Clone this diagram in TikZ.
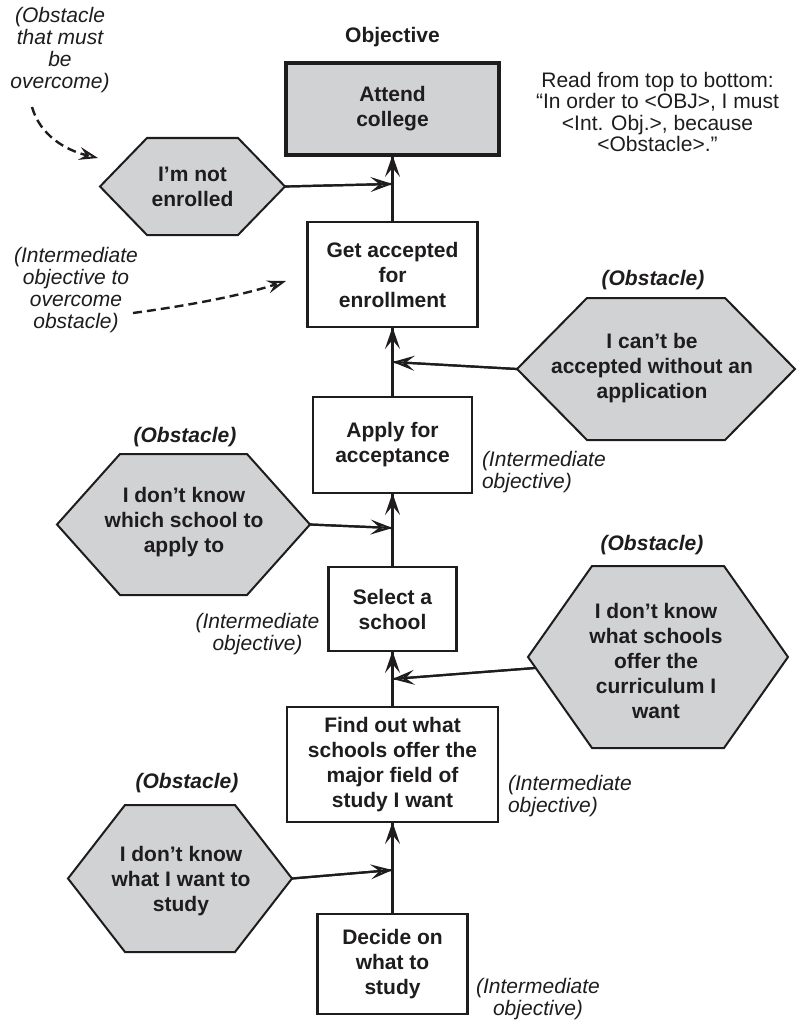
\documentclass[tikz,border=0pt]{standalone}
\usepackage{fontspec}
\setmainfont{Liberation Sans}
\usetikzlibrary{arrows.meta}

\definecolor{ink}{RGB}{30,28,29}
\definecolor{obstgray}{RGB}{209,210,212}

\tikzset{
  every node/.style={inner sep=0pt, outer sep=0pt},
  boxtext/.style={font=\fontsize{21}{25}\selectfont\bfseries, align=center, text=ink},
  stepbox/.style={boxtext, draw=ink, line width=2.2pt, fill=white},
  objbox/.style={boxtext, draw=ink, line width=4pt, fill=obstgray},
  obstline/.style={draw=ink, fill=obstgray, line width=2pt, line join=miter},
  note/.style={font=\fontsize{21}{22}\selectfont\itshape, text=ink},
  readnote/.style={font=\fontsize{21}{21.5}\selectfont, align=center, text=ink},
  tag/.style={font=\fontsize{21}{25}\selectfont\bfseries\itshape, text=ink},
  headtag/.style={font=\fontsize{21}{25}\selectfont\bfseries, text=ink},
  shaft/.style={draw=ink, line width=2.2pt},
  link/.style={shaft,
    -{Stealth[open, length=22pt, width=15pt, inset=9pt, line width=2pt]}},
  hint/.style={draw=ink, line width=2.4pt, dash pattern=on 9pt off 5pt,
    -{Stealth[open, length=19pt, width=13pt, inset=7pt, line width=2pt]}},
}

% obstacle hexagon: #1 name, (#2,#3) centre, #4 half width, #5 half height, #6 slant
\newcommand\obstshape[6]{%
  \begin{scope}[shift={(#2,#3)}]
    \path[obstline] (-#4,0) -- (-#4+#6,-#5) -- (#4-#6,-#5) -- (#4,0)
      -- (#4-#6,#5) -- (-#4+#6,#5) -- cycle;
    \coordinate (#1-w) at (-#4,0);
    \coordinate (#1-e) at (#4,0);
  \end{scope}}

\begin{document}
\begin{tikzpicture}[x=1pt, y=-1pt]
\useasboundingbox (0,0) rectangle (796,1022);

% chain of objectives
\node[headtag] (objlabel) at (392.5,37) {Objective};
\node[objbox, minimum width=213pt, minimum height=92pt] (obj) at (392.5,109) {Attend\\college};
\node[stepbox, minimum width=170pt, minimum height=105pt] (get) at (392.5,274.5) {Get accepted\\for\\enrollment};
\node[stepbox, minimum width=159pt, minimum height=96pt] (apply) at (392.5,445) {Apply for\\acceptance};
\node[stepbox, minimum width=128pt, minimum height=84pt] (select) at (392.5,609) {Select a\\school};
\node[stepbox, minimum width=211pt, minimum height=115pt] (find) at (392.5,764.5) {Find out what\\schools offer the\\major field of\\study I want};
\node[stepbox, minimum width=150pt, minimum height=100pt] (decide) at (392.5,964) {Decide on\\what to\\study};

% obstacles
\obstshape{h1}{192.5}{186.5}{92.5}{48.5}{47}
\node[boxtext] (t1) at (192.5,187) {I'm not\\enrolled};

\obstshape{h2}{656}{369}{139}{71}{70}
\node[boxtext] (t2) at (652,368) {I can't be\\accepted without an\\application};
\node[tag] (o2) at (653,280) {(Obstacle)};

\obstshape{h3}{183.5}{524.5}{126.5}{70.5}{63}
\node[boxtext] (t3) at (184,522.5) {I don't know\\which school to\\apply to};
\node[tag] (o3) at (185,437) {(Obstacle)};

\obstshape{h4}{658}{657}{130}{91}{64}
\coordinate (h4-a) at (535,668);
\node[boxtext] (t4) at (656,661) {I don't know\\what schools\\offer the\\curriculum I\\want};
\node[tag] (o4) at (652,545) {(Obstacle)};

\obstshape{h5}{180}{878.5}{112}{73.5}{57}
\node[boxtext] (t5) at (181,881) {I don't know\\what I want to\\study};
\node[tag] (o5) at (187,783) {(Obstacle)};

% junctions on the main line
\coordinate (j1) at (392.5,184);
\coordinate (j2) at (392.5,362);
\coordinate (j3) at (392.5,528);
\coordinate (j4) at (392.5,679);
\coordinate (j5) at (392.5,870);

% main line: plain shaft up to the tip, then the open head over it
\foreach \lo/\hi in {get/obj, apply/get, select/apply, find/select, decide/find}{
  \draw[shaft] (\lo.north) -- (\hi.south);
  \draw[link] (\lo.north) -- (\hi.south);
}

% obstacle links
\foreach \from/\to in {h1-e/j1, h2-w/j2, h3-e/j3, h4-a/j4, h5-e/j5}{
  \draw[shaft] (\from) -- (\to);
  \draw[link] (\from) -- (\to);
}

% explanatory notes
\node[note, align=center] (n1) at (60,50) {(Obstacle\\that must\\be\\overcome)};
\node[note, align=center] (n2) at (76,290) {(Intermediate\\objective to\\overcome\\obstacle)};
\coordinate (n1end) at (98,158);
\coordinate (n2end) at (286,281);
\coordinate (n1start) at (32,107);
\coordinate (n2start) at (133,313);
\draw[hint] (n1start) .. controls (40,135) and (65,150) .. (n1end);
\draw[hint] (n2start) .. controls (185,306) and (240,296) .. (n2end);

\node[readnote] (read) at (657.5,112) {Read from top to bottom:\\``In order to <OBJ>, I must\\<Int. Obj.>, because\\<Obstacle>.''};

\node[note, align=left, anchor=west] (i1) at (482,472) {(Intermediate\\objective)};
\node[note, align=center] (i2) at (257.5,634) {(Intermediate\\objective)};
\node[note, align=left, anchor=west] (i3) at (508,796) {(Intermediate\\objective)};
\node[note, align=center] (i4) at (538,999) {(Intermediate\\objective)};
\end{tikzpicture}
\end{document}
